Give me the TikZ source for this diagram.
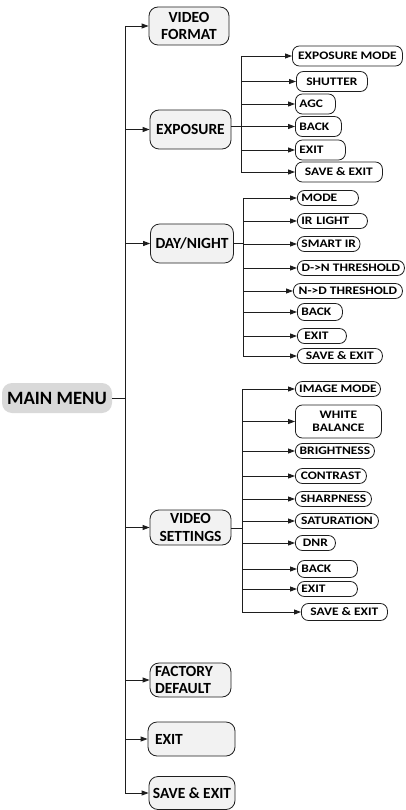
\documentclass[tikz,border=0pt]{standalone}
\usepackage{fontspec}
\setsansfont{Carlito}
\newfontfamily\leaffont[FakeStretch=1.17]{Carlito}
\usetikzlibrary{arrows.meta}
\definecolor{ink}{HTML}{1E1E1E}
\definecolor{mainfill}{HTML}{D9D9D9}
\definecolor{topfill}{HTML}{F2F2F2}
\tikzset{
  >={Triangle[length=7pt,width=5pt]},
  wire/.style={draw=ink, line width=.9pt},
  arr/.style={wire, ->},
  mainbox/.style={fill=mainfill, rounded corners=10pt, minimum width=110pt,
    minimum height=30pt, inner sep=0pt,
    font=\sffamily\bfseries\fontsize{18.8}{20}\selectfont},
  topbox/.style={draw=ink, fill=topfill, line width=.8pt, rounded corners=9pt,
    inner xsep=5pt, inner ysep=0pt, align=center,
    font=\sffamily\bfseries\fontsize{15.5}{17.5}\selectfont},
  leaf/.style={draw=ink, fill=white, line width=.8pt, rounded corners=7pt,
    anchor=west, inner xsep=4pt, inner ysep=0pt, minimum height=15pt,
    align=left, font=\leaffont\bfseries\fontsize{11.5}{13}\selectfont}
}

\begin{document}
\begin{tikzpicture}[x=1pt,y=-1pt]
  \useasboundingbox (0,0) rectangle (405,810);

  % main menu and trunk
  \node[mainbox] (main) at (57,398) {MAIN MENU};
  \coordinate (trunk) at (125,398);

  \node[topbox, minimum width=80pt, minimum height=38pt] (vfmt) at (189,26) {VIDEO\\FORMAT};
  \node[topbox, minimum width=81pt, minimum height=39pt] (expo) at (190.5,129.5) {EXPOSURE};
  \node[topbox, minimum width=82pt, minimum height=39pt] (dn) at (192,243.5) {DAY/NIGHT};
  \node[topbox, minimum width=81pt, minimum height=35pt] (vset) at (190.5,527.5) {VIDEO\\SETTINGS};
  \node[topbox, text width=71pt, align=left, minimum height=34pt] (fdef) at (190.5,680) {FACTORY\\DEFAULT};
  \node[topbox, text width=77pt, align=left, minimum height=34pt] (exit) at (191.5,739) {\hspace{2pt}EXIT};
  \node[topbox, minimum width=86pt, inner xsep=2pt, minimum height=33pt] (save) at (192,793) {SAVE \& EXIT};

  \draw[wire] (main.east) -- (trunk);
  \draw[wire] (trunk |- vfmt.west) -- (trunk |- save.west);
  \draw[arr] (trunk |- vfmt.west) -- (vfmt.west);
  \draw[arr] (trunk |- expo.west) -- (expo.west);
  \draw[arr] (trunk |- dn.west) -- (dn.west);
  \draw[arr] (trunk |- vset.west) -- (vset.west);
  \draw[arr] (trunk |- fdef.west) -- (fdef.west);
  \draw[arr] (trunk |- exit.west) -- (exit.west);
  \draw[arr] (trunk |- save.west) -- (save.west);

  % ------------------------------------------------------------------
  % exposure
  \coordinate (xtrunk) at (241,126);
  \node[leaf, minimum height=20pt, minimum width=110pt, align=center, inner xsep=2pt] (xmode) at (292,56) {EXPOSURE MODE};
  \node[leaf, minimum height=20pt, minimum width=71pt, align=center] (xshut) at (296,81.5) {SHUTTER};
  \node[leaf, minimum height=20pt, text width=32pt] (xagc) at (295,104) {AGC};
  \node[leaf, minimum height=20pt, text width=38pt] (xback) at (295,126.5) {BACK};
  \node[leaf, minimum height=20pt, text width=42pt] (xexit) at (295,150) {EXIT};
  \node[leaf, minimum height=20pt, minimum width=87pt, align=center] (xsave) at (295,172) {SAVE \& EXIT};

  \draw[wire] (expo.east |- xtrunk) -- (xtrunk);
  \draw[wire] (xtrunk |- xmode.west) -- (xtrunk |- xsave.west);
  \draw[arr] (xtrunk |- xmode.west) -- (xmode.west);
  \draw[arr] (xtrunk |- xshut.west) -- (xshut.west);
  \draw[arr] (xtrunk |- xagc.west) -- (xagc.west);
  \draw[arr] (xtrunk |- xback.west) -- (xback.west);
  \draw[arr] (xtrunk |- xexit.west) -- (xexit.west);
  \draw[arr] (xtrunk |- xsave.west) -- (xsave.west);

  % ------------------------------------------------------------------
  % day / night
  \coordinate (dtrunk) at (243,243);
  \node[leaf, text width=53pt] (dmode) at (297,198) {MODE};
  \node[leaf, text width=62pt] (dir) at (297,221) {IR LIGHT};
  \node[leaf, minimum width=56pt, align=center] (dsmart) at (297,244) {SMART IR};
  \node[leaf, minimum width=107pt, align=center, inner xsep=1pt] (ddn) at (297,268) {D->N THRESHOLD};
  \node[leaf, minimum width=109pt, align=center, inner xsep=1pt] (dnd) at (293,291) {N->D THRESHOLD};
  \node[leaf, minimum height=17pt, text width=37pt] (dback) at (297,312) {BACK};
  \node[leaf, text width=41pt] (dexit) at (297,336) {\hspace{3pt}EXIT};
  \node[leaf, minimum width=85pt, align=center] (dsave) at (297,356) {SAVE \& EXIT};

  \draw[wire] (dn.east |- dtrunk) -- (dtrunk);
  \draw[wire] (dtrunk |- dmode.west) -- (dtrunk |- dsave.west);
  \draw[arr] (dtrunk |- dmode.west) -- (dmode.west);
  \draw[arr] (dtrunk |- dir.west) -- (dir.west);
  \draw[arr] (dtrunk |- dsmart.west) -- (dsmart.west);
  \draw[arr] (dtrunk |- ddn.west) -- (ddn.west);
  \draw[arr] (dtrunk |- dnd.west) -- (dnd.west);
  \draw[arr] (dtrunk |- dback.west) -- (dback.west);
  \draw[arr] (dtrunk |- dexit.west) -- (dexit.west);
  \draw[arr] (dtrunk |- dsave.west) -- (dsave.west);

  % ------------------------------------------------------------------
  % video settings
  \coordinate (vtrunk) at (242,528);
  \node[leaf, minimum width=85pt, align=center, inner xsep=2pt] (vimg) at (295,389) {IMAGE MODE};
  \node[leaf, minimum width=86pt, minimum height=33pt, align=center] (vwb) at (295,421.5) {WHITE\\BALANCE};
  \node[leaf, minimum width=79pt, align=center, inner xsep=2pt] (vbright) at (295,451) {BRIGHTNESS};
  \node[leaf, minimum width=71pt, align=center, inner xsep=2pt] (vcon) at (295,476) {CONTRAST};
  \node[leaf, minimum width=76pt, align=center, inner xsep=2pt] (vsharp) at (295,499) {SHARPNESS};
  \node[leaf, minimum width=83pt, align=center, inner xsep=2pt] (vsat) at (295,521) {SATURATION};
  \node[leaf, minimum width=40pt, align=center] (vdnr) at (295,543) {DNR};
  \node[leaf, minimum height=17pt, text width=52pt] (vback) at (297,569) {BACK};
  \node[leaf, text width=52pt] (vexit) at (297,589) {EXIT};
  \node[leaf, minimum height=17pt, minimum width=86pt, align=center] (vsave) at (301,612) {SAVE \& EXIT};

  \draw[wire] (vset.east |- vtrunk) -- (vtrunk);
  \draw[wire] (vtrunk |- vimg.west) -- (vtrunk |- vsave.west);
  \draw[arr] (vtrunk |- vimg.west) -- (vimg.west);
  \draw[arr] (vtrunk |- vwb.west) -- (vwb.west);
  \draw[arr] (vtrunk |- vbright.west) -- (vbright.west);
  \draw[arr] (vtrunk |- vcon.west) -- (vcon.west);
  \draw[arr] (vtrunk |- vsharp.west) -- (vsharp.west);
  \draw[arr] (vtrunk |- vsat.west) -- (vsat.west);
  \draw[arr] (vtrunk |- vdnr.west) -- (vdnr.west);
  \draw[arr] (vtrunk |- vback.west) -- (vback.west);
  \draw[arr] (vtrunk |- vexit.west) -- (vexit.west);
  \draw[arr] (vtrunk |- vsave.west) -- (vsave.west);
\end{tikzpicture}
\end{document}
